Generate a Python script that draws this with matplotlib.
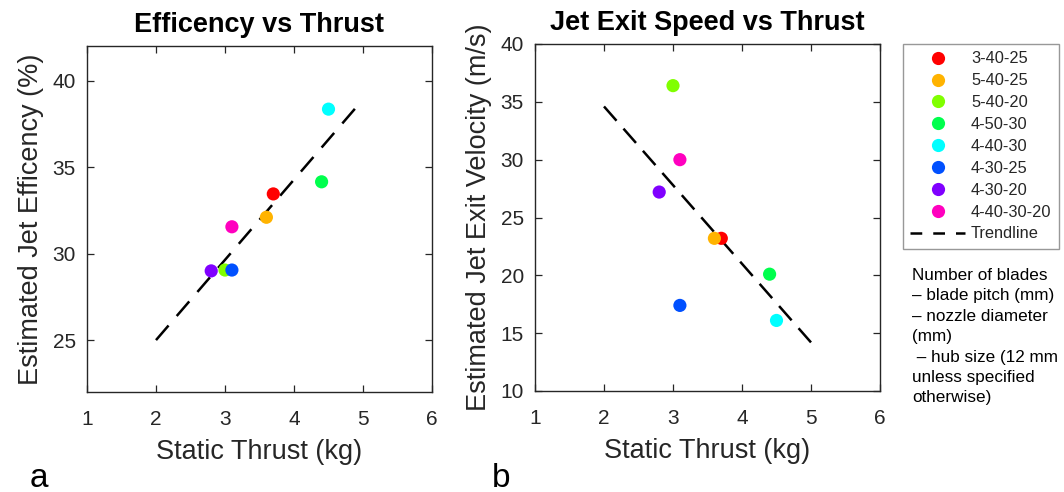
import matplotlib
matplotlib.use("Agg")
import matplotlib.pyplot as plt
from matplotlib.lines import Line2D

plt.rcParams['font.family'] = ['Liberation Sans', 'DejaVu Sans']

configs = ["3-40-25", "5-40-25", "5-40-20", "4-50-30", "4-40-30", "4-30-25", "4-30-20", "4-40-30-20"]
colors = ["#FF0000", "#FFB300", "#80FF00", "#00FF4D", "#00FFFF", "#0050FF", "#8000FF", "#FF00BF"]
thrust = [3.7, 3.6, 3.0, 4.4, 4.5, 3.1, 2.8, 3.1]
efficiency = [33.45, 32.1, 29.05, 34.15, 38.35, 29.05, 29.0, 31.55]
velocity = [23.2, 23.2, 36.4, 20.1, 16.1, 17.4, 27.2, 30.0]

trend_eff_x = [2, 4.9]
trend_eff = [25.0, 38.45]
trend_vel_x = [2, 5]
trend_vel = [34.6, 14.2]

W, H = 1064, 492
fig = plt.figure(figsize=(W / 100, H / 100), dpi=100)

def px_axes(x0, x1, y0, y1):
    return fig.add_axes([x0 / W, 1 - y1 / H, (x1 - x0) / W, (y1 - y0) / H])

ax1 = px_axes(87, 432, 46, 392)
ax2 = px_axes(535, 880, 44, 391)

gray = "#262626"

def style(ax):
    for s in ax.spines.values():
        s.set_color(gray)
        s.set_linewidth(1.0)
    ax.tick_params(direction='in', top=True, right=True, length=5, width=0.9,
                   colors=gray, labelsize=15)
    ax.tick_params(axis='x', pad=13)
    ax.tick_params(axis='y', pad=8)
    ax.set_xlim(1, 6)
    ax.set_xticks([1, 2, 3, 4, 5, 6])

# Left
ax1.plot(trend_eff_x, trend_eff, color='black', lw=1.8, ls=(0, (7.7, 5.0)), zorder=2)
ax1.scatter(thrust, efficiency, c=colors, s=90, zorder=3, edgecolors='none')
style(ax1)
ax1.set_ylim(22, 42)
ax1.set_yticks([25, 30, 35, 40])
ax1.set_xlabel("Static Thrust (kg)", fontsize=19.5, color=gray, labelpad=7)
ax1.set_ylabel("Estimated Jet Efficency (%)", fontsize=19.5, color=gray, labelpad=6)
ax1.set_title("Efficency vs Thrust", fontsize=19.5, fontweight='bold', pad=10)

# Right
ax2.plot(trend_vel_x, trend_vel, color='black', lw=1.8, ls=(0, (7.6, 4.2)), zorder=2)
ax2.scatter(thrust, velocity, c=colors, s=90, zorder=3, edgecolors='none')
style(ax2)
ax2.set_ylim(10, 40)
ax2.set_yticks([10, 15, 20, 25, 30, 35, 40])
ax2.set_xlabel("Static Thrust (kg)", fontsize=19.5, color=gray, labelpad=7)
ax2.set_ylabel("Estimated Jet Exit Velocity (m/s)", fontsize=19.5, color=gray, labelpad=6)
ax2.set_title("Jet Exit Speed vs Thrust", fontsize=19.5, fontweight='bold', pad=10)

# Legend
handles = [Line2D([], [], ls='none', marker='o', markersize=9.5, markerfacecolor=c,
                  markeredgecolor='none') for c in colors]
handles.append(Line2D([], [], color='black', lw=1.8, ls=(0, (4.7, 4.4))))
labels = configs + ["Trendline"]
leg = fig.legend(handles, labels, loc='upper left', bbox_to_anchor=(903 / W, 1 - 44 / H),
                 fontsize=11.8, frameon=True, fancybox=False, edgecolor='#7f7f7f',
                 handlelength=3.35, handletextpad=0.35, labelspacing=0.42, borderpad=0.45,
                 borderaxespad=0)
leg.get_frame().set_linewidth(1.0)
for t in leg.get_texts():
    t.set_color(gray)

note = ("Number of blades\n\u2013 blade pitch (mm)\n\u2013 nozzle diameter\n(mm)\n"
        " \u2013 hub size (12 mm\nunless specified\notherwise)")
fig.text(912 / W, 1 - 268 / H, note, fontsize=12.3, color='black', va='top', ha='left',
         linespacing=1.45)

fig.text(30 / W, 1 - 487 / H, "a", fontsize=24, color='black', va='baseline')
fig.text(492 / W, 1 - 487 / H, "b", fontsize=24, color='black', va='baseline')

fig.savefig("out.png", dpi=100)
